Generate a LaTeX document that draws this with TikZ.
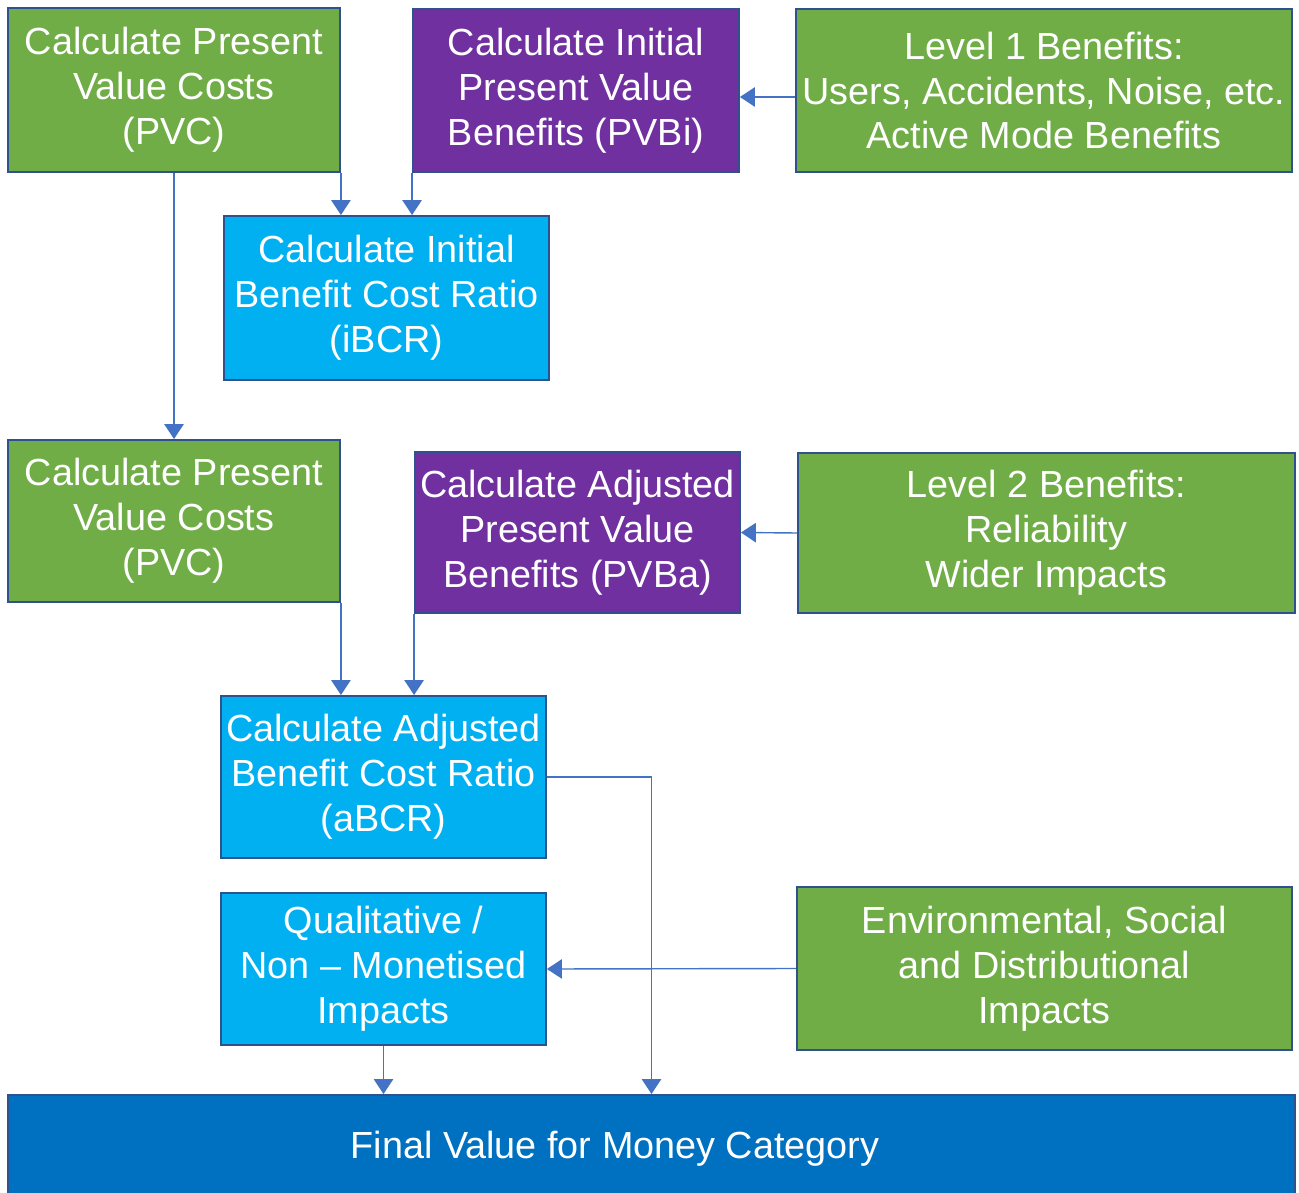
\documentclass[tikz,border=0pt]{standalone}
\usepackage{fontspec}
\setmainfont{Liberation Sans}
\usetikzlibrary{arrows.meta}

\definecolor{boxgreen}{HTML}{70AD47}
\definecolor{boxpurple}{HTML}{7030A0}
\definecolor{boxcyan}{HTML}{00B0F0}
\definecolor{boxblue}{HTML}{0070C0}
\definecolor{boxedge}{HTML}{2F528F}
\definecolor{flow}{HTML}{4472C4}

\begin{document}
\begin{tikzpicture}[x=0.02cm, y=-0.02cm,
        box/.style = {draw=boxedge, line width=1.1pt, text=white, align=center, inner sep=0pt,
                      font=\fontsize{21.5}{25.6}\selectfont},
        cost/.style = {box, fill=boxgreen},
        benefit/.style = {box, fill=boxpurple},
        ratio/.style = {box, fill=boxcyan},
        arr/.style = {flow, line width=0.8pt, -{Triangle[width=11pt,length=8.5pt]}}]
        \useasboundingbox (0,0) rectangle (1299,1193);

        % top row
        \node[cost, minimum width=6.64cm, minimum height=3.28cm] (pvc1) at (174,90) {Calculate Present\\Value Costs\\(PVC)};
        \node[benefit, minimum width=6.52cm, minimum height=3.26cm] (pvbi) at (576,90.5) {Calculate Initial\\Present Value\\Benefits (PVBi)};
        \node[cost, minimum width=9.92cm, minimum height=3.26cm] (lvl1) at (1044,90.5) {Level 1 Benefits:\\Users, Accidents, Noise, etc.\\Active Mode Benefits};
        \node[ratio, minimum width=6.5cm, minimum height=3.28cm] (ibcr) at (386.5,298) {Calculate Initial\\Benefit Cost Ratio\\(iBCR)};

        % second row
        \node[cost, minimum width=6.64cm, minimum height=3.24cm] (pvc2) at (174,521) {Calculate Present\\Value Costs\\(PVC)};
        \node[benefit, minimum width=6.5cm, minimum height=3.22cm] (pvba) at (577.5,532.5) {Calculate Adjusted\\Present Value\\Benefits (PVBa)};
        \node[cost, minimum width=9.94cm, minimum height=3.2cm] (lvl2) at (1046.5,533) {Level 2 Benefits:\\Reliability\\Wider Impacts};
        \node[ratio, minimum width=6.5cm, minimum height=3.24cm] (abcr) at (383.5,777) {Calculate Adjusted\\Benefit Cost Ratio\\(aBCR)};

        % bottom part
        \node[ratio, minimum width=6.5cm, minimum height=3.04cm] (qual) at (383.5,969) {Qualitative /\\Non -- Monetised\\Impacts};
        \node[cost, minimum width=9.9cm, minimum height=3.26cm] (env) at (1044.5,968.5) {Environmental, Social\\and Distributional\\Impacts};
        \node[box, fill=boxblue, minimum width=25.74cm, minimum height=2.16cm] (final) at (651.5,1149) {\hspace*{-1.46cm}Final Value for Money Category};

        \draw[arr] (pvc1.south east) -- (pvc1.south east |- ibcr.north);
        \draw[arr] (pvbi.south west) -- (pvbi.south west |- ibcr.north);
        \draw[arr] ([yshift=-0.13cm]lvl1.west) -- ([yshift=-0.13cm]lvl1.west -| pvbi.east);
        \draw[arr] (pvc1.south) -- (pvc2.north);
        \draw[arr] (pvc2.south east) -- (pvc2.south east |- abcr.north);
        \draw[arr] (pvba.south west) -- (pvba.south west |- abcr.north);
        \draw[arr] (lvl2.west) -- (pvba.east);
        \draw[arr] (abcr.east) -| (final.north);
        \draw[arr] (env.west) -- (qual.east);
        \draw[arr] (qual.south) -- (qual.south |- final.north);
    \end{tikzpicture}
\end{document}
